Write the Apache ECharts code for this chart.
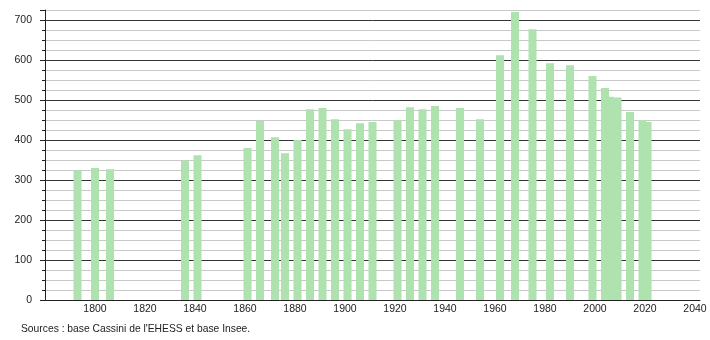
<!DOCTYPE html>
<html>
<head>
<meta charset="utf-8">
<script src="https://cdn.jsdelivr.net/npm/echarts@6/dist/echarts.min.js"></script>
<style>
html,body{margin:0;padding:0;background:#fff;}
#c{width:710px;height:340px;}
</style>
</head>
<body>
<div id="c"></div>
<script>
const years = [1793,1800,1806,1836,1841,1861,1866,1872,1876,1881,1886,1891,1896,1901,1906,1911,1921,1926,1931,1936,1946,1954,1962,1968,1975,1982,1990,1999,2004,2006,2009,2014,2019,2021];
const population = [324,330,327,349,362,380,448,407,367,400,477,480,452,427,442,445,450,482,477,485,480,452,612,720,677,592,587,560,530,508,506,470,450,445];
const xTickLabels = [1800,1820,1840,1860,1880,1900,1920,1940,1960,1980,2000,2020,2040];
const yTickLabels = [0,100,200,300,400,500,600,700];
const sourceText = "Sources : base Cassini de l'EHESS et base Insee.";

const font = 'Liberation Sans, Arial, sans-serif';
const chart = echarts.init(document.getElementById('c'), null, {renderer:'canvas'});
chart.setOption({
  animation:false,
  backgroundColor:'#ffffff',
  title:{
    text:sourceText, left:21, top:324, padding:0,
    textStyle:{fontSize:10.3, fontWeight:'normal', color:'#222', fontFamily:font}
  },
  grid:{left:45, right:10, top:10, bottom:40},
  xAxis:{
    type:'value', min:1780, max:2042, interval:20,
    axisLine:{show:true, lineStyle:{color:'#222', width:1}},
    axisTick:{show:false},
    splitLine:{show:false},
    axisLabel:{
      margin:4, fontSize:10.5, color:'#222', fontFamily:font,
      formatter:function(v){ return xTickLabels.indexOf(v) >= 0 ? String(v) : ''; }
    }
  },
  yAxis:[{
    type:'value', min:0, max:725, interval:25,
    axisLine:{show:true, lineStyle:{color:'#222', width:1}},
    axisTick:{show:true, length:3, lineStyle:{color:'#222'}},
    splitLine:{show:true, lineStyle:{color:['#333','#c8c8c8','#c8c8c8','#c8c8c8'], width:1}},
    axisLabel:{
      margin:13, fontSize:10.5, color:'#222', fontFamily:font,
      formatter:function(v){ return yTickLabels.indexOf(v) >= 0 ? String(v) : ''; }
    }
  },{
    type:'value', min:0, max:725, interval:100, position:'left',
    axisLine:{show:false},
    axisTick:{show:true, length:5, lineStyle:{color:'#222'}},
    splitLine:{show:false},
    axisLabel:{show:false}
  }],
  series:[{
    type:'bar',
    barWidth:8,
    itemStyle:{color:'#aee2ae'},
    data: years.map(function(y,i){ return [y, population[i]]; })
  }]
});
</script>
</body>
</html>
